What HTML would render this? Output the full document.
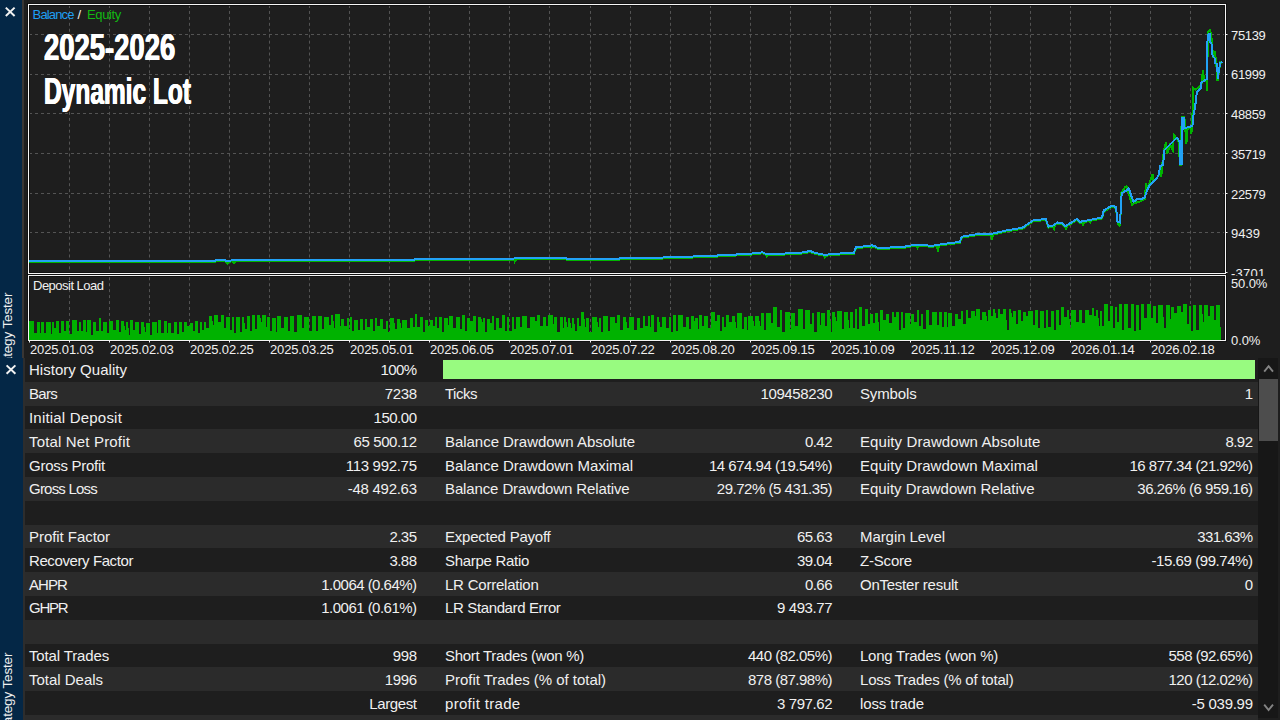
<!DOCTYPE html>
<html><head><meta charset="utf-8"><title>Strategy Tester</title>
<style>
html,body{margin:0;padding:0}
body{width:1280px;height:720px;overflow:hidden;background:#1e1e1e;position:relative;font-family:"Liberation Sans", sans-serif}
.t{position:absolute;white-space:pre;font-family:"Liberation Sans", sans-serif}
.g{stroke:#545454;stroke-width:1;stroke-dasharray:3 3}
.gv{stroke:#545454;stroke-width:1;stroke-dasharray:3 2.94}
.ttl{position:absolute;left:44.2px;color:#fff;font-weight:700;font-size:37px;line-height:44px;white-space:pre;transform-origin:0 0;text-shadow:0.6px 0 0 #fff,-0.6px 0 0 #fff}
.vt{position:absolute;color:#f0f0f0;font-size:13.5px;line-height:16px;letter-spacing:-0.15px;white-space:pre;transform-origin:0 0;transform:rotate(-90deg)}
</style></head><body>
<div style="position:absolute;left:0;top:0;width:22px;height:720px;background:#042746"></div>
<div style="position:absolute;left:22px;top:0;width:2px;height:358px;background:#393634"></div>
<div style="position:absolute;left:22px;top:358px;width:1px;height:362px;background:#042746"></div>
<div style="position:absolute;left:23px;top:358px;width:2px;height:362px;background:#2d2d2d"></div>
<div style="position:absolute;left:25px;top:382px;width:1233px;height:24px;background:#2b2b2b"></div><div style="position:absolute;left:25px;top:429px;width:1233px;height:24px;background:#2b2b2b"></div><div style="position:absolute;left:25px;top:477px;width:1233px;height:24px;background:#2b2b2b"></div><div style="position:absolute;left:25px;top:525px;width:1233px;height:23px;background:#2b2b2b"></div><div style="position:absolute;left:25px;top:572px;width:1233px;height:24px;background:#2b2b2b"></div><div style="position:absolute;left:25px;top:620px;width:1233px;height:24px;background:#2b2b2b"></div><div style="position:absolute;left:25px;top:667px;width:1233px;height:24px;background:#2b2b2b"></div><div style="position:absolute;left:25px;top:715px;width:1233px;height:24px;background:#2b2b2b"></div>
<div style="position:absolute;left:1258px;top:358px;width:20px;height:360px;background:#171717"></div>
<div style="position:absolute;left:1259px;top:379px;width:19px;height:62px;background:#4d4d4d"></div>
<div style="position:absolute;left:443.2px;top:360.3px;width:812.1px;height:19px;background:#98fb80"></div>
<svg width="1280" height="720" style="position:absolute;left:0;top:0">
<line x1="69.5" y1="5" x2="69.5" y2="273" class="gv"/><line x1="69.5" y1="277.3" x2="69.5" y2="340" class="gv"/><line x1="109.5" y1="5" x2="109.5" y2="273" class="gv"/><line x1="109.5" y1="277.3" x2="109.5" y2="340" class="gv"/><line x1="149.5" y1="5" x2="149.5" y2="273" class="gv"/><line x1="149.5" y1="277.3" x2="149.5" y2="340" class="gv"/><line x1="189.5" y1="5" x2="189.5" y2="273" class="gv"/><line x1="189.5" y1="277.3" x2="189.5" y2="340" class="gv"/><line x1="229.5" y1="5" x2="229.5" y2="273" class="gv"/><line x1="229.5" y1="277.3" x2="229.5" y2="340" class="gv"/><line x1="269.5" y1="5" x2="269.5" y2="273" class="gv"/><line x1="269.5" y1="277.3" x2="269.5" y2="340" class="gv"/><line x1="309.5" y1="5" x2="309.5" y2="273" class="gv"/><line x1="309.5" y1="277.3" x2="309.5" y2="340" class="gv"/><line x1="349.5" y1="5" x2="349.5" y2="273" class="gv"/><line x1="349.5" y1="277.3" x2="349.5" y2="340" class="gv"/><line x1="389.5" y1="5" x2="389.5" y2="273" class="gv"/><line x1="389.5" y1="277.3" x2="389.5" y2="340" class="gv"/><line x1="429.5" y1="5" x2="429.5" y2="273" class="gv"/><line x1="429.5" y1="277.3" x2="429.5" y2="340" class="gv"/><line x1="469.5" y1="5" x2="469.5" y2="273" class="gv"/><line x1="469.5" y1="277.3" x2="469.5" y2="340" class="gv"/><line x1="509.5" y1="5" x2="509.5" y2="273" class="gv"/><line x1="509.5" y1="277.3" x2="509.5" y2="340" class="gv"/><line x1="549.5" y1="5" x2="549.5" y2="273" class="gv"/><line x1="549.5" y1="277.3" x2="549.5" y2="340" class="gv"/><line x1="590.5" y1="5" x2="590.5" y2="273" class="gv"/><line x1="590.5" y1="277.3" x2="590.5" y2="340" class="gv"/><line x1="630.5" y1="5" x2="630.5" y2="273" class="gv"/><line x1="630.5" y1="277.3" x2="630.5" y2="340" class="gv"/><line x1="670.5" y1="5" x2="670.5" y2="273" class="gv"/><line x1="670.5" y1="277.3" x2="670.5" y2="340" class="gv"/><line x1="710.5" y1="5" x2="710.5" y2="273" class="gv"/><line x1="710.5" y1="277.3" x2="710.5" y2="340" class="gv"/><line x1="750.5" y1="5" x2="750.5" y2="273" class="gv"/><line x1="750.5" y1="277.3" x2="750.5" y2="340" class="gv"/><line x1="790.5" y1="5" x2="790.5" y2="273" class="gv"/><line x1="790.5" y1="277.3" x2="790.5" y2="340" class="gv"/><line x1="830.5" y1="5" x2="830.5" y2="273" class="gv"/><line x1="830.5" y1="277.3" x2="830.5" y2="340" class="gv"/><line x1="870.5" y1="5" x2="870.5" y2="273" class="gv"/><line x1="870.5" y1="277.3" x2="870.5" y2="340" class="gv"/><line x1="910.5" y1="5" x2="910.5" y2="273" class="gv"/><line x1="910.5" y1="277.3" x2="910.5" y2="340" class="gv"/><line x1="950.5" y1="5" x2="950.5" y2="273" class="gv"/><line x1="950.5" y1="277.3" x2="950.5" y2="340" class="gv"/><line x1="990.5" y1="5" x2="990.5" y2="273" class="gv"/><line x1="990.5" y1="277.3" x2="990.5" y2="340" class="gv"/><line x1="1030.5" y1="5" x2="1030.5" y2="273" class="gv"/><line x1="1030.5" y1="277.3" x2="1030.5" y2="340" class="gv"/><line x1="1070.5" y1="5" x2="1070.5" y2="273" class="gv"/><line x1="1070.5" y1="277.3" x2="1070.5" y2="340" class="gv"/><line x1="1110.5" y1="5" x2="1110.5" y2="273" class="gv"/><line x1="1110.5" y1="277.3" x2="1110.5" y2="340" class="gv"/><line x1="1150.5" y1="5" x2="1150.5" y2="273" class="gv"/><line x1="1150.5" y1="277.3" x2="1150.5" y2="340" class="gv"/><line x1="1190.5" y1="5" x2="1190.5" y2="273" class="gv"/><line x1="1190.5" y1="277.3" x2="1190.5" y2="340" class="gv"/><line x1="29" y1="34.5" x2="1225" y2="34.5" class="g"/><line x1="29" y1="74.5" x2="1225" y2="74.5" class="g"/><line x1="29" y1="113.5" x2="1225" y2="113.5" class="g"/><line x1="29" y1="153.5" x2="1225" y2="153.5" class="g"/><line x1="29" y1="193.5" x2="1225" y2="193.5" class="g"/><line x1="29" y1="232.5" x2="1225" y2="232.5" class="g"/><rect x="28.5" y="4.5" width="1197" height="269" fill="none" stroke="#121212" stroke-width="3"/><rect x="28.5" y="275.5" width="1197" height="65" fill="none" stroke="#121212" stroke-width="3"/><path d="M29,340 L29.0,321.3 L34.0,321.3 L34.0,333.3 L37.0,333.3 L37.0,322.3 L39.5,322.3 L40.0,333.1 L41.0,333.1 L41.0,322.3 L44.0,322.3 L44.0,332.5 L45.5,332.5 L45.5,322.3 L50.5,322.3 L50.5,333.7 L52.0,333.7 L52.0,322.3 L54.0,322.3 L54.0,328.1 L56.0,328.1 L56.0,321.3 L58.5,321.3 L58.5,332.5 L60.5,332.5 L60.5,321.3 L63.5,321.3 L63.5,331.1 L65.5,331.1 L65.5,321.3 L68.5,321.3 L69.0,334.0 L71.5,334.0 L71.5,320.3 L76.5,320.3 L77.5,331.2 L78.5,331.2 L78.5,322.3 L80.5,322.3 L81.5,330.9 L82.5,330.9 L82.5,319.8 L85.5,319.8 L86.5,331.5 L87.0,331.5 L87.0,319.8 L90.5,319.8 L91.5,334.8 L92.5,334.8 L92.5,321.8 L96.0,321.8 L96.5,330.9 L99.0,330.9 L99.0,318.3 L101.0,318.3 L101.0,330.6 L103.0,330.6 L103.0,321.8 L107.0,321.8 L107.5,332.5 L109.0,332.5 L109.0,321.3 L113.0,321.3 L113.0,330.3 L115.5,330.3 L115.5,319.8 L119.0,319.8 L119.5,332.4 L121.0,332.4 L121.0,321.3 L124.0,321.3 L125.0,330.3 L125.5,330.3 L125.5,321.8 L128.0,321.8 L129.0,334.9 L130.0,334.9 L130.0,320.3 L133.0,320.3 L133.0,330.3 L135.0,330.3 L135.0,322.3 L138.5,322.3 L139.5,334.2 L141.0,334.2 L141.0,321.8 L144.0,321.8 L145.0,332.1 L145.5,332.1 L145.5,323.3 L149.5,323.3 L149.5,334.7 L151.5,334.7 L151.5,322.3 L156.5,322.3 L157.0,332.5 L158.0,332.5 L158.0,319.8 L161.0,319.8 L161.5,332.6 L163.5,332.6 L163.5,321.3 L166.5,321.3 L167.5,333.1 L168.0,333.1 L168.0,323.3 L171.0,323.3 L171.5,333.2 L174.0,333.2 L174.0,321.8 L177.0,321.8 L177.0,333.6 L179.0,333.6 L179.0,322.3 L182.0,322.3 L182.0,332.3 L184.0,332.3 L184.0,321.8 L187.0,321.8 L187.0,326.2 L189.5,326.2 L189.5,323.3 L192.5,323.3 L192.5,331.2 L194.5,331.2 L194.5,321.3 L197.5,321.3 L197.5,332.9 L199.5,332.9 L199.5,322.3 L202.0,322.3 L202.0,329.8 L204.0,329.8 L204.0,322.3 L206.0,322.3 L206.0,328.3 L209.0,328.3 L209.0,316 L212.0,316 L213.0,325.0 L214.0,325.0 L214.0,315 L217.5,315 L218.0,322.0 L220.5,322.0 L220.5,315 L224.0,315 L224.0,327.7 L226.0,327.7 L226.0,317 L229.5,317 L229.5,330.1 L231.5,330.1 L231.5,317 L234.0,317 L234.0,332.7 L236.0,332.7 L236.0,317 L239.5,317 L240.5,332.3 L241.5,332.3 L241.5,317 L244.0,317 L245.0,328.9 L246.5,328.9 L246.5,316 L249.5,316 L250.5,330.9 L251.5,330.9 L251.5,314.5 L254.5,314.5 L254.5,328.9 L257.0,328.9 L257.0,315 L260.0,315 L261.0,321.5 L262.0,321.5 L262.0,314.5 L265.5,314.5 L265.5,327.2 L267.0,327.2 L267.0,317 L269.5,317 L270.5,330.8 L272.0,330.8 L272.0,318 L275.5,318 L275.5,332.0 L277.0,332.0 L277.0,316 L281.0,316 L281.0,327.7 L284.0,327.7 L284.0,317 L288.0,317 L288.0,331.0 L289.5,331.0 L289.5,316 L293.5,316 L293.5,332.3 L296.5,332.3 L296.5,314.5 L301.5,314.5 L302.5,328.4 L304.0,328.4 L304.0,317 L309.0,317 L309.0,330.8 L311.5,330.8 L311.5,316 L315.5,316 L316.0,331.2 L318.0,331.2 L318.0,316 L322.0,316 L322.0,329.4 L324.0,329.4 L324.0,317 L329.0,317 L329.0,325.4 L331.0,325.4 L331.0,315 L333.0,315 L334.0,327.7 L334.5,327.7 L334.5,314 L339.5,314 L339.5,326.0 L341.0,326.0 L341.0,318.5 L344.0,318.5 L344.0,326.2 L346.5,326.2 L346.5,317.5 L348.5,317.5 L349.0,329.4 L350.0,329.4 L350.0,317.0 L352.0,317.0 L352.0,330.9 L354.0,330.9 L354.0,319.5 L358.0,319.5 L358.0,329.8 L360.0,329.8 L360.0,318.5 L362.5,318.5 L362.5,329.5 L364.5,329.5 L364.5,318.5 L367.0,318.5 L367.0,327.0 L370.0,327.0 L370.0,318.5 L373.0,318.5 L373.5,330.9 L374.5,330.9 L374.5,317.5 L376.5,317.5 L377.5,325.7 L379.5,325.7 L379.5,318.5 L382.5,318.5 L382.5,328.8 L385.5,328.8 L385.5,320.5 L387.5,320.5 L387.5,331.8 L390.0,331.8 L390.0,317.5 L394.0,317.5 L395.0,328.9 L397.0,328.9 L397.0,319.0 L400.0,319.0 L401.0,327.7 L402.0,327.7 L402.0,319.5 L407.0,319.5 L407.5,327.9 L409.5,327.9 L409.5,317.5 L413.0,317.5 L413.0,326.7 L414.5,326.7 L414.5,314.0 L417.0,314.0 L417.5,326.6 L419.5,326.6 L419.5,317.0 L422.5,317.0 L423.0,332.1 L425.0,332.1 L425.0,319.5 L427.5,319.5 L428.5,326.2 L429.5,326.2 L429.5,319.5 L432.5,319.5 L432.5,325.9 L434.5,325.9 L434.5,317.0 L436.5,317.0 L436.5,327.8 L438.5,327.8 L438.5,317.0 L441.5,317.0 L442.0,331.8 L443.5,331.8 L443.5,317.5 L447.5,317.5 L447.5,324.7 L449.0,324.7 L449.0,315.5 L453.0,315.5 L453.5,327.9 L455.5,327.9 L455.5,316.5 L459.5,316.5 L459.5,328.7 L461.5,328.7 L461.5,315.0 L464.5,315.0 L464.5,330.8 L467.0,330.8 L467.0,317.5 L470.0,317.5 L470.5,321.4 L473.0,321.4 L473.0,315.5 L475.5,315.5 L475.5,332.2 L478.0,332.2 L478.0,316.5 L481.0,316.5 L482.0,322.3 L483.0,322.3 L483.0,317.5 L485.0,317.5 L485.0,332.0 L487.0,332.0 L487.0,318.5 L489.5,318.5 L489.5,322.9 L491.5,322.9 L491.5,315.5 L494.0,315.5 L494.0,329.8 L496.0,329.8 L496.0,317.5 L499.0,317.5 L499.0,328.4 L502.0,328.4 L502.0,315.0 L505.0,315.0 L505.0,330.5 L507.0,330.5 L507.0,316.5 L509.0,316.5 L509.5,331.2 L511.5,331.2 L511.5,316.5 L513.5,316.5 L513.5,328.8 L516.0,328.8 L516.0,316.5 L520.0,316.5 L520.5,327.0 L522.0,327.0 L522.0,315.5 L527.0,315.5 L527.0,327.5 L530.0,327.5 L530.0,316.5 L535.0,316.5 L535.0,321.3 L537.0,321.3 L537.0,315.0 L540.0,315.0 L540.0,325.9 L543.0,325.9 L543.0,317.0 L545.5,317.0 L546.0,326.1 L547.5,326.1 L547.5,315.0 L552.5,315.0 L552.5,323.7 L554.0,323.7 L554.0,316.5 L557.0,316.5 L557.0,331.9 L560.0,331.9 L560.0,316.5 L562.5,316.5 L562.5,327.9 L564.0,327.9 L564.0,316.5 L566.0,316.5 L567.0,327.1 L568.0,327.1 L568.0,317.5 L570.0,317.5 L571.0,327.7 L572.0,327.7 L572.0,317.5 L574.0,317.5 L575.0,331.1 L577.0,331.1 L577.0,317.5 L579.0,317.5 L579.0,326.0 L580.5,326.0 L580.5,312.0 L584.0,312.0 L585.0,326.9 L586.0,326.9 L586.0,317.5 L589.0,317.5 L589.5,331.6 L592.0,331.6 L592.0,316.5 L597.0,316.5 L598.0,327.0 L598.5,327.0 L598.5,317.5 L601.0,317.5 L601.0,331.7 L602.5,331.7 L602.5,316 L607.5,316 L608.0,330.7 L609.5,330.7 L609.5,317 L614.5,317 L615.5,322.6 L616.5,322.6 L616.5,314.5 L620.0,314.5 L620.0,329.7 L622.5,329.7 L622.5,316.5 L626.0,316.5 L627.0,327.5 L628.5,327.5 L628.5,317 L633.5,317 L633.5,329.6 L636.5,329.6 L636.5,318 L639.5,318 L639.5,327.9 L642.5,327.9 L642.5,316 L644.5,316 L645.5,325.7 L647.5,325.7 L647.5,316 L649.5,316 L649.5,327.2 L651.0,327.2 L651.0,315 L654.0,315 L654.0,332.2 L657.0,332.2 L657.0,317 L659.0,317 L660.0,326.9 L662.0,326.9 L662.0,317 L666.0,317 L666.0,328.1 L669.0,328.1 L669.0,316.5 L671.0,316.5 L671.0,331.7 L673.0,331.7 L673.0,315 L676.0,315 L676.0,331.4 L677.5,331.4 L677.5,315 L682.5,315 L683.5,326.5 L685.5,326.5 L685.5,317 L688.5,317 L689.5,329.2 L690.5,329.2 L690.5,316 L693.5,316 L694.0,321.2 L695.0,321.2 L695.0,318 L697.5,318 L698.0,328.5 L699.0,328.5 L699.0,315 L702.0,315 L702.5,326.1 L703.5,326.1 L703.5,316 L707.5,316 L708.5,328.1 L710.5,328.1 L710.5,312 L714.5,312 L715.0,321.1 L716.5,321.1 L716.5,315 L719.5,315 L719.5,330.9 L721.5,330.9 L721.5,316.5 L723.5,316.5 L724.5,326.6 L725.5,326.6 L725.5,315 L729.0,315 L729.5,322.4 L732.0,322.4 L732.0,316 L735.0,316 L736.0,328.0 L736.5,328.0 L736.5,313 L741.5,313 L742.0,328.8 L743.5,328.8 L743.5,317 L746.5,317 L746.5,330.1 L748.0,330.1 L748.0,316 L753.0,316 L754.0,325.5 L755.0,325.5 L755.0,316 L759.0,316 L760.0,325.6 L760.5,325.6 L760.5,312.5 L764.0,312.5 L764.0,330.4 L766.0,330.4 L766.0,312.5 L771.0,312.5 L771.5,322.8 L773.0,322.8 L773.0,307.0 L776.5,307.0 L776.5,326.6 L779.5,326.6 L779.5,310.0 L782.0,310.0 L782.0,331.7 L784.5,331.7 L784.5,311.5 L789.5,311.5 L789.5,328.9 L791.0,328.9 L791.0,312.5 L794.5,312.5 L794.5,326.3 L797.5,326.3 L797.5,308.5 L802.5,308.5 L803.5,329.2 L805.0,329.2 L805.0,310.0 L810.0,310.0 L810.0,323.7 L812.0,323.7 L812.0,312.5 L814.0,312.5 L814.0,331.9 L816.5,331.9 L816.5,311.5 L819.5,311.5 L819.5,324.9 L821.0,324.9 L821.0,312.5 L825.0,312.5 L825.0,325.8 L827.0,325.8 L827.0,310.0 L830.0,310.0 L831.0,331.6 L832.0,331.6 L832.0,311.5 L835.0,311.5 L836.0,321.4 L837.0,321.4 L837.0,310.5 L842.0,310.5 L842.0,328.5 L844.0,328.5 L844.0,311.5 L848.0,311.5 L849.0,327.6 L849.5,327.6 L849.5,312.0 L852.5,312.0 L852.5,327.5 L854.5,327.5 L854.5,308.5 L856.5,308.5 L856.5,329.3 L859.0,329.3 L859.0,307.0 L861.5,307.0 L861.5,326.2 L864.5,326.2 L864.5,308.5 L868.0,308.5 L868.0,324.4 L870.0,324.4 L870.0,313.5 L873.0,313.5 L873.5,323.0 L875.0,323.0 L875.0,312.5 L878.0,312.5 L879.0,330.5 L879.5,330.5 L879.5,310.0 L883.0,310.0 L883.5,319.8 L886.0,319.8 L886.0,313.5 L889.0,313.5 L889.0,323.4 L891.5,323.4 L891.5,311.5 L893.5,311.5 L893.5,317.0 L895.5,317.0 L895.5,312.0 L898.5,312.0 L898.5,330.2 L900.5,330.2 L900.5,311.5 L902.5,311.5 L903.0,328.3 L904.5,328.3 L904.5,312.5 L909.5,312.5 L910.0,323.8 L911.0,323.8 L911.0,313.5 L914.0,313.5 L914.0,322.4 L916.5,322.4 L916.5,310.0 L918.5,310.0 L918.5,326.1 L921.0,326.1 L921.0,313.5 L923.0,313.5 L923.0,329.1 L926.0,329.1 L926.0,310.0 L929.0,310.0 L929.0,325.0 L932.0,325.0 L932.0,311.5 L937.0,311.5 L937.0,325.1 L939.0,325.1 L939.0,312.0 L942.0,312.0 L942.5,326.7 L944.0,326.7 L944.0,312.0 L946.5,312.0 L947.5,326.6 L948.0,326.6 L948.0,312.5 L952.0,312.5 L952.0,325.9 L954.5,325.9 L954.5,313.5 L958.0,313.5 L958.5,318.5 L960.5,318.5 L960.5,310.5 L963.0,310.5 L963.5,324.2 L965.5,324.2 L965.5,310.0 L967.5,310.0 L968.0,318.2 L970.5,318.2 L970.5,310.5 L974.5,310.5 L975.0,316.4 L976.0,316.4 L976.0,308.5 L980.0,308.5 L980.0,319.7 L982.0,319.7 L982.0,311.5 L986.0,311.5 L987.0,320.5 L987.5,320.5 L987.5,310.0 L990.5,310.0 L991.5,316.1 L993.0,316.1 L993.0,308.5 L995.0,308.5 L996.0,318.0 L998.0,318.0 L998.0,308.5 L1000.0,308.5 L1000.5,314.1 L1003.0,314.1 L1003.0,308.5 L1006.0,308.5 L1007.0,330.4 L1008.5,330.4 L1008.5,308.5 L1011.0,308.5 L1012.0,316.9 L1012.5,316.9 L1012.5,310.5 L1015.5,310.5 L1015.5,324.1 L1018.0,324.1 L1018.0,309.5 L1020.5,309.5 L1021.0,321.3 L1022.5,321.3 L1022.5,311.5 L1025.5,311.5 L1026.0,315.9 L1028.0,315.9 L1028.0,310.5 L1033.0,310.5 L1033.0,324.5 L1035.0,324.5 L1035.0,309.5 L1038.0,309.5 L1038.0,327.5 L1040.0,327.5 L1040.0,310.5 L1044.0,310.5 L1044.0,327.7 L1046.0,327.7 L1046.0,309.5 L1048.0,309.5 L1048.0,326.9 L1050.5,326.9 L1050.5,310.5 L1054.0,310.5 L1054.0,329.6 L1055.5,329.6 L1055.5,309.5 L1058.5,309.5 L1059.0,324.5 L1061.0,324.5 L1061.0,307.0 L1064.0,307.0 L1064.5,317.2 L1066.5,317.2 L1066.5,309.5 L1069.0,309.5 L1070.0,327.5 L1070.5,327.5 L1070.5,309.5 L1075.5,309.5 L1076.5,321.9 L1078.5,321.9 L1078.5,310.0 L1082.0,310.0 L1082.0,323.3 L1085.0,323.3 L1085.0,309.5 L1089.0,309.5 L1089.5,315.0 L1091.5,315.0 L1091.5,308.0 L1093.5,308.0 L1093.5,316.2 L1095.5,316.2 L1095.5,309.5 L1098.0,309.5 L1099.0,326.0 L1099.5,326.0 L1099.5,310.5 L1102.0,310.5 L1102.0,325.7 L1104.0,325.7 L1104.0,304 L1107.5,304 L1107.5,321.2 L1109.5,321.2 L1109.5,305.5 L1113.0,305.5 L1113.5,327.5 L1114.5,327.5 L1114.5,307 L1117.0,307 L1117.0,322.0 L1119.0,322.0 L1119.0,304 L1122.0,304 L1122.0,329.8 L1124.0,329.8 L1124.0,303.5 L1128.0,303.5 L1128.0,327.7 L1131.0,327.7 L1131.0,303.5 L1134.0,303.5 L1134.5,331.3 L1135.5,331.3 L1135.5,305 L1138.5,305 L1138.5,329.6 L1141.0,329.6 L1141.0,303.5 L1144.0,303.5 L1144.0,318.1 L1146.5,318.1 L1146.5,304 L1150.5,304 L1150.5,318.1 L1153.0,318.1 L1153.0,306 L1156.0,306 L1156.0,322.5 L1158.0,322.5 L1158.0,305 L1163.0,305 L1164.0,328.4 L1166.0,328.4 L1166.0,305 L1169.5,305 L1169.5,319.1 L1171.0,319.1 L1171.0,307 L1173.5,307 L1174.5,313.0 L1176.5,313.0 L1176.5,305.5 L1180.5,305.5 L1181.5,312.4 L1182.5,312.4 L1182.5,304 L1186.5,304 L1186.5,324.1 L1188.5,324.1 L1188.5,306 L1190.5,306 L1191.5,331.3 L1192.5,331.3 L1192.5,305 L1195.5,305 L1196.5,329.6 L1198.5,329.6 L1198.5,305 L1202.0,305 L1203.0,322.3 L1204.0,322.3 L1204.0,305 L1207.5,305 L1207.5,316.2 L1209.5,316.2 L1209.5,305.5 L1213.5,305.5 L1213.5,320.4 L1215.5,320.4 L1215.5,305 L1220.5,305 L1219.5,326 L1221,327 L1221,340Z" fill="#00b200" shape-rendering="crispEdges"/><polyline points="29,262.3 213,262.3 216,261.3 225,261.3 226.3,262.08 227,262.5 227.5,263.5 228.7,262.075 231,261.5 232.8,261.4983486238532 234,263 235.2,261.4961467889908 340,261.4 412,261.3 415,260.3 512,260.2 513.8,259.6 515,259.2 515,261 516.2,259.2 566,259.2 568,260.4 583,260.4 585,259.4 588,260.4 617,260.3 620,259.3 660,258.6 685,257.8 710,256.9 735,255.6 760,254.0 762,252.8 765.8,255.07999999999996 766,255.2 767,256.5 768.2,255.1511111111111 775,255.0 795,254.0 805,253.3 810,251.8 815,254.0 823.8,255.584 825,255.8 825,257 826.2,255.696 840,254.5 854,253.6 856,248.2 864,247.4 870.8,246.55 872,246.4 872,247.6 873.2,246.64000000000001 875,247.0 878,249.4 886,249.3 893,247.9 905,247.6 916.3,245.6225 917,245.5 917.5,248 918.7,245.67000000000002 922,246.0 932,246.8 936.8,246.06153846153848 938,250 939.2,245.6923076923077 945,244.8 960,242.8 961,239.0 963,237.4 975.6,235.4 990.8,235.0051948051948 991,235.0 992,238 993.2,234.49124999999998 1007,231.3 1022.5,228.7 1033.4,221.3 1046,220.0 1048.3,227.6 1052,227.0 1052.8,226.5087719298246 1054,229 1055.2,225.03508771929825 1057.7,223.5 1061.5,224.0 1064.8,226.47499999999997 1065.5,227.0 1066,230 1067.2,225.96521739130432 1077,220.0 1079.5,222.9 1081.8,222.4523489932886 1083,225 1084.2,221.98523489932887 1088.8,221.08993288590605 1090,222.5 1091.2,220.62281879194632 1094.4,220.0 1102,218.5 1103.75,211.5 1106.8,209.6503225806452 1108,209.5 1109.2,208.1948387096774 1111.5,206.8 1116,207.9 1117.6,223 1118.5,224.2 1119.6,225.4 1120.6,214 1120.9,193.1 1123,190.5 1125.3,186.6 1126.5,186.4 1129.2,195 1132.1,204.9 1134,203 1138.9,202 1144.7,199.2 1146.1,183.6 1147.7,189.4 1152.5,173.9 1153.5,181.5 1158.4,176 1160.3,168 1161.3,176.6 1162.3,164 1164.2,149.3 1166.1,142.6 1167.1,154 1170,144.6 1173,150.3 1173.9,134.8 1176.8,138.8 1178.8,141.8 1179.9,165 1181.2,165 1181.6,117.2 1184.4,117.2 1186.4,143.5 1187.5,129.2 1190.5,127.4 1191.4,133.8 1192.4,117.2 1193.2,88 1195.3,89.6 1199.4,86.9 1201.5,84 1202.9,70 1204.3,81 1206.4,80 1207.1,91 1207.8,32.5 1209.9,30.4 1211.25,34 1211.9,44 1213.3,57.6 1214.7,51.2 1216.1,62 1217.5,80.6 1218.9,71.4 1220.3,62.4 1222.4,62.6" fill="none" stroke="#00b400" stroke-width="2" stroke-linejoin="miter" shape-rendering="crispEdges"/><polyline points="29,261.3 213,261.3 216,260.3 225,260.3 227,261.5 231,260.5 340,260.4 412,260.3 415,259.3 512,259.2 515,258.2 566,258.2 568,259.4 583,259.4 585,258.4 588,259.4 617,259.3 620,258.3 660,257.6 685,256.8 710,255.9 735,254.6 760,253 762,251.8 766,254.2 775,254 795,253 805,252.3 810,250.8 815,253 825,254.8 840,253.5 854,252.6 856,247.2 864,246.4 872,245.4 875,246 878,248.4 886,248.3 893,246.9 905,246.6 917,244.5 922,245 932,245.8 945,243.8 960,241.8 961,238 963,236.4 975.6,234.4 991,234 1007,230.3 1022.5,227.7 1033.4,220.3 1046,219 1048.3,226.6 1052,226 1057.7,222.5 1061.5,223 1065.5,226 1077,219 1079.5,221.9 1094.4,219 1102,217.5 1103.75,210.5 1111.5,205.8 1116,206.9 1117.5,221.9 1120,222.5 1121.7,193.3 1125.6,191 1128.75,188.4 1133.4,201.9 1136.5,199.5 1144.4,198.2 1147,190.5 1149.6,185.3 1155.3,180 1158.4,175.6 1160.3,165.9 1163.2,164.9 1164.2,150.3 1167.1,147.4 1176.8,137.7 1178.8,140.6 1180,141 1180.2,164 1181.6,164 1182,117.5 1183.6,117.5 1184.2,128.3 1192.4,126 1193.4,115.3 1195,108 1196.8,92 1200.8,88 1201.5,82.5 1207,79 1207.6,34.6 1209.9,33.9 1210.3,42.2 1212,45 1212.6,56.1 1214.7,58.2 1215.4,63 1217.2,64.4 1217.8,79 1218.9,70 1220.3,63 1222.4,61.7" fill="none" stroke="#22a2f6" stroke-width="2" stroke-linejoin="miter" shape-rendering="crispEdges"/><rect x="28.5" y="4.5" width="1197" height="269" fill="none" stroke="#f6f6f6" stroke-width="1"/><rect x="28.5" y="275.5" width="1197" height="65" fill="none" stroke="#f4f4f4" stroke-width="1"/><line x1="29.5" y1="340" x2="29.5" y2="342.5" stroke="#f4f4f4" stroke-width="1"/><line x1="69.5" y1="340" x2="69.5" y2="342.5" stroke="#f4f4f4" stroke-width="1"/><line x1="109.5" y1="340" x2="109.5" y2="342.5" stroke="#f4f4f4" stroke-width="1"/><line x1="149.5" y1="340" x2="149.5" y2="342.5" stroke="#f4f4f4" stroke-width="1"/><line x1="189.5" y1="340" x2="189.5" y2="342.5" stroke="#f4f4f4" stroke-width="1"/><line x1="229.5" y1="340" x2="229.5" y2="342.5" stroke="#f4f4f4" stroke-width="1"/><line x1="269.5" y1="340" x2="269.5" y2="342.5" stroke="#f4f4f4" stroke-width="1"/><line x1="309.5" y1="340" x2="309.5" y2="342.5" stroke="#f4f4f4" stroke-width="1"/><line x1="349.5" y1="340" x2="349.5" y2="342.5" stroke="#f4f4f4" stroke-width="1"/><line x1="389.5" y1="340" x2="389.5" y2="342.5" stroke="#f4f4f4" stroke-width="1"/><line x1="429.5" y1="340" x2="429.5" y2="342.5" stroke="#f4f4f4" stroke-width="1"/><line x1="469.5" y1="340" x2="469.5" y2="342.5" stroke="#f4f4f4" stroke-width="1"/><line x1="509.5" y1="340" x2="509.5" y2="342.5" stroke="#f4f4f4" stroke-width="1"/><line x1="550.5" y1="340" x2="550.5" y2="342.5" stroke="#f4f4f4" stroke-width="1"/><line x1="590.5" y1="340" x2="590.5" y2="342.5" stroke="#f4f4f4" stroke-width="1"/><line x1="630.5" y1="340" x2="630.5" y2="342.5" stroke="#f4f4f4" stroke-width="1"/><line x1="670.5" y1="340" x2="670.5" y2="342.5" stroke="#f4f4f4" stroke-width="1"/><line x1="710.5" y1="340" x2="710.5" y2="342.5" stroke="#f4f4f4" stroke-width="1"/><line x1="750.5" y1="340" x2="750.5" y2="342.5" stroke="#f4f4f4" stroke-width="1"/><line x1="790.5" y1="340" x2="790.5" y2="342.5" stroke="#f4f4f4" stroke-width="1"/><line x1="830.5" y1="340" x2="830.5" y2="342.5" stroke="#f4f4f4" stroke-width="1"/><line x1="870.5" y1="340" x2="870.5" y2="342.5" stroke="#f4f4f4" stroke-width="1"/><line x1="910.5" y1="340" x2="910.5" y2="342.5" stroke="#f4f4f4" stroke-width="1"/><line x1="950.5" y1="340" x2="950.5" y2="342.5" stroke="#f4f4f4" stroke-width="1"/><line x1="990.5" y1="340" x2="990.5" y2="342.5" stroke="#f4f4f4" stroke-width="1"/><line x1="1030.5" y1="340" x2="1030.5" y2="342.5" stroke="#f4f4f4" stroke-width="1"/><line x1="1070.5" y1="340" x2="1070.5" y2="342.5" stroke="#f4f4f4" stroke-width="1"/><line x1="1110.5" y1="340" x2="1110.5" y2="342.5" stroke="#f4f4f4" stroke-width="1"/><line x1="1150.5" y1="340" x2="1150.5" y2="342.5" stroke="#f4f4f4" stroke-width="1"/><line x1="1190.5" y1="340" x2="1190.5" y2="342.5" stroke="#f4f4f4" stroke-width="1"/><line x1="1225" y1="34.5" x2="1227.5" y2="34.5" stroke="#f4f4f4" stroke-width="1"/><line x1="1225" y1="74.5" x2="1227.5" y2="74.5" stroke="#f4f4f4" stroke-width="1"/><line x1="1225" y1="113.5" x2="1227.5" y2="113.5" stroke="#f4f4f4" stroke-width="1"/><line x1="1225" y1="153.5" x2="1227.5" y2="153.5" stroke="#f4f4f4" stroke-width="1"/><line x1="1225" y1="193.5" x2="1227.5" y2="193.5" stroke="#f4f4f4" stroke-width="1"/><line x1="1225" y1="232.5" x2="1227.5" y2="232.5" stroke="#f4f4f4" stroke-width="1"/><line x1="1225" y1="272.5" x2="1227.5" y2="272.5" stroke="#f4f4f4" stroke-width="1"/>
<g fill="none" stroke="#f2f2f2" stroke-width="2"><path d="M5.8 7.6 L14.6 16 M14.6 7.6 L5.8 16"/><path d="M6.6 365.4 L15.4 373.8 M15.4 365.4 L6.6 373.8"/></g>
<g fill="none" stroke="#848484" stroke-width="1.9"><path d="M1264.2 371.6 L1268.6 366.2 L1273 371.6"/><path d="M1264.2 704.6 L1268.6 710 L1273 704.6"/></g>
</svg>
<div class="ttl" style="top:26.3px;transform:scaleX(0.7415)">2025-2026</div>
<div class="ttl" style="top:70.3px;transform:scaleX(0.662)">Dynamic Lot</div>
<div style="position:absolute;left:0;top:0;width:22px;height:358px;overflow:hidden"><div class="vt" style="left:-0.2px;top:380.7px">Strategy Tester</div></div>
<div style="position:absolute;left:0;top:358px;width:22px;height:362px;overflow:hidden"><div class="vt" style="left:-0.2px;top:382.8px">Strategy Tester</div></div>
<span class="t" style="left:29.0px;top:361.3px;font-size:15px;line-height:17.23px;color:#f0f0f0;letter-spacing:0.031px">History Quality</span><span class="t" style="right:863.60px;top:361.3px;font-size:15px;line-height:17.23px;color:#f0f0f0;letter-spacing:-0.599px">100%</span><span class="t" style="left:29.0px;top:385.1px;font-size:15px;line-height:17.23px;color:#f0f0f0;letter-spacing:-0.711px">Bars</span><span class="t" style="right:863.38px;top:385.1px;font-size:15px;line-height:17.23px;color:#f0f0f0;letter-spacing:-0.380px">7238</span><span class="t" style="left:445.0px;top:385.1px;font-size:15px;line-height:17.23px;color:#f0f0f0;letter-spacing:-0.491px">Ticks</span><span class="t" style="right:447.88px;top:385.1px;font-size:15px;line-height:17.23px;color:#f0f0f0;letter-spacing:-0.380px">109458230</span><span class="t" style="left:860.0px;top:385.1px;font-size:15px;line-height:17.23px;color:#f0f0f0;letter-spacing:-0.147px">Symbols</span><span class="t" style="right:27.38px;top:385.1px;font-size:15px;line-height:17.23px;color:#f0f0f0;letter-spacing:-0.380px">1</span><span class="t" style="left:29.0px;top:408.9px;font-size:15px;line-height:17.23px;color:#f0f0f0;letter-spacing:0.197px">Initial Deposit</span><span class="t" style="right:863.48px;top:408.9px;font-size:15px;line-height:17.23px;color:#f0f0f0;letter-spacing:-0.478px">150.00</span><span class="t" style="left:29.0px;top:432.7px;font-size:15px;line-height:17.23px;color:#f0f0f0;letter-spacing:0.164px">Total Net Profit</span><span class="t" style="right:863.41px;top:432.7px;font-size:15px;line-height:17.23px;color:#f0f0f0;letter-spacing:-0.415px">65 500.12</span><span class="t" style="left:445.0px;top:432.7px;font-size:15px;line-height:17.23px;color:#f0f0f0;letter-spacing:-0.038px">Balance Drawdown Absolute</span><span class="t" style="right:448.03px;top:432.7px;font-size:15px;line-height:17.23px;color:#f0f0f0;letter-spacing:-0.526px">0.42</span><span class="t" style="left:860.0px;top:432.7px;font-size:15px;line-height:17.23px;color:#f0f0f0;letter-spacing:0.086px">Equity Drawdown Absolute</span><span class="t" style="right:27.53px;top:432.7px;font-size:15px;line-height:17.23px;color:#f0f0f0;letter-spacing:-0.526px">8.92</span><span class="t" style="left:29.0px;top:456.5px;font-size:15px;line-height:17.23px;color:#f0f0f0;letter-spacing:-0.266px">Gross Profit</span><span class="t" style="right:863.30px;top:456.5px;font-size:15px;line-height:17.23px;color:#f0f0f0;letter-spacing:-0.300px">113 992.75</span><span class="t" style="left:445.0px;top:456.5px;font-size:15px;line-height:17.23px;color:#f0f0f0;letter-spacing:-0.052px">Balance Drawdown Maximal</span><span class="t" style="right:447.98px;top:456.5px;font-size:15px;line-height:17.23px;color:#f0f0f0;letter-spacing:-0.480px">14 674.94 (19.54%)</span><span class="t" style="left:860.0px;top:456.5px;font-size:15px;line-height:17.23px;color:#f0f0f0;letter-spacing:0.055px">Equity Drawdown Maximal</span><span class="t" style="right:27.48px;top:456.5px;font-size:15px;line-height:17.23px;color:#f0f0f0;letter-spacing:-0.480px">16 877.34 (21.92%)</span><span class="t" style="left:29.0px;top:480.3px;font-size:15px;line-height:17.23px;color:#f0f0f0;letter-spacing:-0.786px">Gross Loss</span><span class="t" style="right:863.28px;top:480.3px;font-size:15px;line-height:17.23px;color:#f0f0f0;letter-spacing:-0.282px">-48 492.63</span><span class="t" style="left:445.0px;top:480.3px;font-size:15px;line-height:17.23px;color:#f0f0f0;letter-spacing:-0.124px">Balance Drawdown Relative</span><span class="t" style="right:447.99px;top:480.3px;font-size:15px;line-height:17.23px;color:#f0f0f0;letter-spacing:-0.486px">29.72% (5 431.35)</span><span class="t" style="left:860.0px;top:480.3px;font-size:15px;line-height:17.23px;color:#f0f0f0;letter-spacing:-0.024px">Equity Drawdown Relative</span><span class="t" style="right:27.49px;top:480.3px;font-size:15px;line-height:17.23px;color:#f0f0f0;letter-spacing:-0.486px">36.26% (6 959.16)</span><span class="t" style="left:29.0px;top:527.9px;font-size:15px;line-height:17.23px;color:#f0f0f0;letter-spacing:-0.053px">Profit Factor</span><span class="t" style="right:863.53px;top:527.9px;font-size:15px;line-height:17.23px;color:#f0f0f0;letter-spacing:-0.526px">2.35</span><span class="t" style="left:445.0px;top:527.9px;font-size:15px;line-height:17.23px;color:#f0f0f0;letter-spacing:-0.231px">Expected Payoff</span><span class="t" style="right:448.00px;top:527.9px;font-size:15px;line-height:17.23px;color:#f0f0f0;letter-spacing:-0.497px">65.63</span><span class="t" style="left:860.0px;top:527.9px;font-size:15px;line-height:17.23px;color:#f0f0f0;letter-spacing:-0.074px">Margin Level</span><span class="t" style="right:27.59px;top:527.9px;font-size:15px;line-height:17.23px;color:#f0f0f0;letter-spacing:-0.587px">331.63%</span><span class="t" style="left:29.0px;top:551.7px;font-size:15px;line-height:17.23px;color:#f0f0f0;letter-spacing:-0.403px">Recovery Factor</span><span class="t" style="right:863.53px;top:551.7px;font-size:15px;line-height:17.23px;color:#f0f0f0;letter-spacing:-0.526px">3.88</span><span class="t" style="left:445.0px;top:551.7px;font-size:15px;line-height:17.23px;color:#f0f0f0;letter-spacing:-0.297px">Sharpe Ratio</span><span class="t" style="right:448.00px;top:551.7px;font-size:15px;line-height:17.23px;color:#f0f0f0;letter-spacing:-0.497px">39.04</span><span class="t" style="left:860.0px;top:551.7px;font-size:15px;line-height:17.23px;color:#f0f0f0;letter-spacing:-0.192px">Z-Score</span><span class="t" style="right:27.43px;top:551.7px;font-size:15px;line-height:17.23px;color:#f0f0f0;letter-spacing:-0.433px">-15.69 (99.74%)</span><span class="t" style="left:29.0px;top:575.5px;font-size:15px;line-height:17.23px;color:#f0f0f0;letter-spacing:-0.922px">AHPR</span><span class="t" style="right:863.53px;top:575.5px;font-size:15px;line-height:17.23px;color:#f0f0f0;letter-spacing:-0.528px">1.0064 (0.64%)</span><span class="t" style="left:445.0px;top:575.5px;font-size:15px;line-height:17.23px;color:#f0f0f0;letter-spacing:-0.223px">LR Correlation</span><span class="t" style="right:448.03px;top:575.5px;font-size:15px;line-height:17.23px;color:#f0f0f0;letter-spacing:-0.526px">0.66</span><span class="t" style="left:860.0px;top:575.5px;font-size:15px;line-height:17.23px;color:#f0f0f0;letter-spacing:-0.248px">OnTester result</span><span class="t" style="right:27.38px;top:575.5px;font-size:15px;line-height:17.23px;color:#f0f0f0;letter-spacing:-0.380px">0</span><span class="t" style="left:29.0px;top:599.3px;font-size:15px;line-height:17.23px;color:#f0f0f0;letter-spacing:-1.211px">GHPR</span><span class="t" style="right:863.53px;top:599.3px;font-size:15px;line-height:17.23px;color:#f0f0f0;letter-spacing:-0.528px">1.0061 (0.61%)</span><span class="t" style="left:445.0px;top:599.3px;font-size:15px;line-height:17.23px;color:#f0f0f0;letter-spacing:-0.367px">LR Standard Error</span><span class="t" style="right:447.92px;top:599.3px;font-size:15px;line-height:17.23px;color:#f0f0f0;letter-spacing:-0.419px">9 493.77</span><span class="t" style="left:29.0px;top:646.9px;font-size:15px;line-height:17.23px;color:#f0f0f0;letter-spacing:-0.143px">Total Trades</span><span class="t" style="right:863.38px;top:646.9px;font-size:15px;line-height:17.23px;color:#f0f0f0;letter-spacing:-0.380px">998</span><span class="t" style="left:445.0px;top:646.9px;font-size:15px;line-height:17.23px;color:#f0f0f0;letter-spacing:-0.303px">Short Trades (won %)</span><span class="t" style="right:448.00px;top:646.9px;font-size:15px;line-height:17.23px;color:#f0f0f0;letter-spacing:-0.504px">440 (82.05%)</span><span class="t" style="left:860.0px;top:646.9px;font-size:15px;line-height:17.23px;color:#f0f0f0;letter-spacing:-0.241px">Long Trades (won %)</span><span class="t" style="right:27.50px;top:646.9px;font-size:15px;line-height:17.23px;color:#f0f0f0;letter-spacing:-0.504px">558 (92.65%)</span><span class="t" style="left:29.0px;top:670.7px;font-size:15px;line-height:17.23px;color:#f0f0f0;letter-spacing:-0.018px">Total Deals</span><span class="t" style="right:863.38px;top:670.7px;font-size:15px;line-height:17.23px;color:#f0f0f0;letter-spacing:-0.380px">1996</span><span class="t" style="left:445.0px;top:670.7px;font-size:15px;line-height:17.23px;color:#f0f0f0;letter-spacing:-0.028px">Profit Trades (% of total)</span><span class="t" style="right:448.00px;top:670.7px;font-size:15px;line-height:17.23px;color:#f0f0f0;letter-spacing:-0.504px">878 (87.98%)</span><span class="t" style="left:860.0px;top:670.7px;font-size:15px;line-height:17.23px;color:#f0f0f0;letter-spacing:-0.204px">Loss Trades (% of total)</span><span class="t" style="right:27.50px;top:670.7px;font-size:15px;line-height:17.23px;color:#f0f0f0;letter-spacing:-0.504px">120 (12.02%)</span><span class="t" style="right:863.39px;top:694.5px;font-size:15px;line-height:17.23px;color:#f0f0f0;letter-spacing:-0.391px">Largest</span><span class="t" style="left:445.0px;top:694.5px;font-size:15px;line-height:17.23px;color:#f0f0f0;letter-spacing:0.315px">profit trade</span><span class="t" style="right:447.92px;top:694.5px;font-size:15px;line-height:17.23px;color:#f0f0f0;letter-spacing:-0.419px">3 797.62</span><span class="t" style="left:860.0px;top:694.5px;font-size:15px;line-height:17.23px;color:#f0f0f0;letter-spacing:-0.105px">loss trade</span><span class="t" style="right:27.27px;top:694.5px;font-size:15px;line-height:17.23px;color:#f0f0f0;letter-spacing:-0.272px">-5 039.99</span><span class="t" style="right:863.31px;top:718.3px;font-size:15px;line-height:17.23px;color:#f0f0f0;letter-spacing:-0.314px">Average</span><span class="t" style="left:445.0px;top:718.3px;font-size:15px;line-height:17.23px;color:#f0f0f0;letter-spacing:0.315px">profit trade</span><span class="t" style="right:447.98px;top:718.3px;font-size:15px;line-height:17.23px;color:#f0f0f0;letter-spacing:-0.478px">129.83</span><span class="t" style="left:860.0px;top:718.3px;font-size:15px;line-height:17.23px;color:#f0f0f0;letter-spacing:-0.105px">loss trade</span><span class="t" style="right:27.12px;top:718.3px;font-size:15px;line-height:17.23px;color:#f0f0f0;letter-spacing:-0.119px">-404.11</span><span class="t" style="left:1231.0px;top:28.7px;font-size:13px;line-height:14.94px;color:#f0f0f0;letter-spacing:-0.351px">75139</span><span class="t" style="left:1231.0px;top:68.4px;font-size:13px;line-height:14.94px;color:#f0f0f0;letter-spacing:-0.351px">61999</span><span class="t" style="left:1231.0px;top:108.1px;font-size:13px;line-height:14.94px;color:#f0f0f0;letter-spacing:-0.351px">48859</span><span class="t" style="left:1231.0px;top:147.8px;font-size:13px;line-height:14.94px;color:#f0f0f0;letter-spacing:-0.351px">35719</span><span class="t" style="left:1231.0px;top:187.5px;font-size:13px;line-height:14.94px;color:#f0f0f0;letter-spacing:-0.351px">22579</span><span class="t" style="left:1231.0px;top:227.2px;font-size:13px;line-height:14.94px;color:#f0f0f0;letter-spacing:0.000px">9439</span><span class="t" style="left:1231.0px;top:266.9px;font-size:13px;line-height:14.94px;color:#f0f0f0;letter-spacing:0.230px;clip-path:inset(0 0 5.9px 0)">-3701</span><span class="t" style="left:1231.0px;top:276.6px;font-size:13px;line-height:14.94px;color:#f0f0f0;letter-spacing:-0.115px">50.0%</span><span class="t" style="left:1231.0px;top:333.5px;font-size:13px;line-height:14.94px;color:#f0f0f0;letter-spacing:-0.085px">0.0%</span><span class="t" style="left:30.0px;top:343.1px;font-size:13px;line-height:14.94px;color:#f0f0f0;letter-spacing:-0.138px">2025.01.03</span><span class="t" style="left:110.0px;top:343.1px;font-size:13px;line-height:14.94px;color:#f0f0f0;letter-spacing:-0.138px">2025.02.03</span><span class="t" style="left:190.0px;top:343.1px;font-size:13px;line-height:14.94px;color:#f0f0f0;letter-spacing:-0.138px">2025.02.25</span><span class="t" style="left:270.0px;top:343.1px;font-size:13px;line-height:14.94px;color:#f0f0f0;letter-spacing:-0.138px">2025.03.25</span><span class="t" style="left:350.0px;top:343.1px;font-size:13px;line-height:14.94px;color:#f0f0f0;letter-spacing:-0.138px">2025.05.01</span><span class="t" style="left:430.0px;top:343.1px;font-size:13px;line-height:14.94px;color:#f0f0f0;letter-spacing:-0.138px">2025.06.05</span><span class="t" style="left:510.0px;top:343.1px;font-size:13px;line-height:14.94px;color:#f0f0f0;letter-spacing:-0.138px">2025.07.01</span><span class="t" style="left:591.0px;top:343.1px;font-size:13px;line-height:14.94px;color:#f0f0f0;letter-spacing:-0.138px">2025.07.22</span><span class="t" style="left:671.0px;top:343.1px;font-size:13px;line-height:14.94px;color:#f0f0f0;letter-spacing:-0.138px">2025.08.20</span><span class="t" style="left:751.0px;top:343.1px;font-size:13px;line-height:14.94px;color:#f0f0f0;letter-spacing:-0.138px">2025.09.15</span><span class="t" style="left:831.0px;top:343.1px;font-size:13px;line-height:14.94px;color:#f0f0f0;letter-spacing:-0.138px">2025.10.09</span><span class="t" style="left:911.0px;top:343.1px;font-size:13px;line-height:14.94px;color:#f0f0f0;letter-spacing:-0.041px">2025.11.12</span><span class="t" style="left:991.0px;top:343.1px;font-size:13px;line-height:14.94px;color:#f0f0f0;letter-spacing:-0.138px">2025.12.09</span><span class="t" style="left:1071.0px;top:343.1px;font-size:13px;line-height:14.94px;color:#f0f0f0;letter-spacing:-0.138px">2026.01.14</span><span class="t" style="left:1151.0px;top:343.1px;font-size:13px;line-height:14.94px;color:#f0f0f0;letter-spacing:-0.138px">2026.02.18</span><span class="t" style="left:32.6px;top:7.8px;font-size:13px;line-height:14.94px;color:#1f9ff2;letter-spacing:-0.855px">Balance</span><span class="t" style="left:77.6px;top:7.8px;font-size:13px;line-height:14.94px;color:#f0f0f0;letter-spacing:0.000px">/</span><span class="t" style="left:87.0px;top:7.8px;font-size:13px;line-height:14.94px;color:#12b812;letter-spacing:-0.357px">Equity</span><span class="t" style="left:33.0px;top:278.8px;font-size:13px;line-height:14.94px;color:#f0f0f0;letter-spacing:-0.510px">Deposit Load</span>
</body></html>
